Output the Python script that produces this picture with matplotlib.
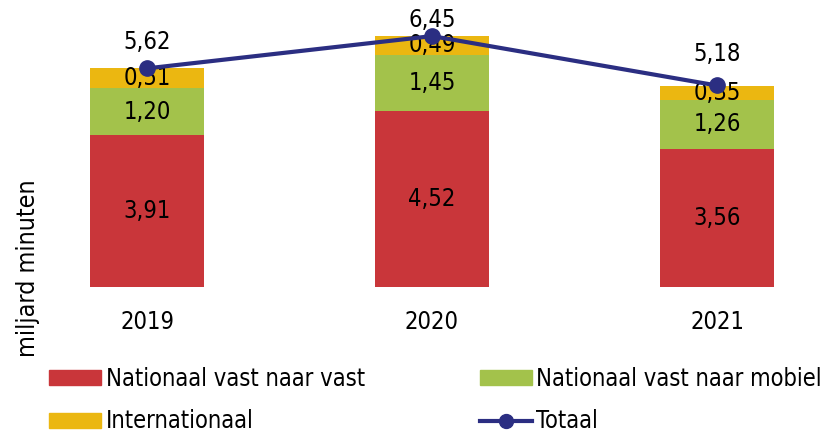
import numpy as np
import matplotlib.pyplot as plt
from matplotlib.patches import Patch
from matplotlib.lines import Line2D

# data
jaren = ['2019', '2020', '2021']
vast_vast = [3.91, 4.52, 3.56]
vast_mobiel = [1.20, 1.45, 1.26]
internationaal = [0.51, 0.49, 0.35]
totaal = [5.62, 6.45, 5.18]

c_rood = '#C9363A'
c_groen = '#A3C24B'
c_geel = '#EBB711'
c_blauw = '#2B2E82'

plt.rcParams['font.family'] = ['DejaVu Sans']
plt.rcParams['font.stretch'] = 'condensed'

W, H = 827, 436
fig = plt.figure(figsize=(W / 100, H / 100), dpi=100)

# axes in pixels: baseline at y=287, bar centres at 147/432/717
left, right, top, bottom = 40, 820, 10, 287
ax = fig.add_axes([left / W, 1 - bottom / H, (right - left) / W, (bottom - top) / H])
px_per_cat = 285
px_per_unit = 38.9
ax.set_xlim((left - 147) / px_per_cat, (right - 147) / px_per_cat)
ax.set_ylim(0, (bottom - top) / px_per_unit)
ax.axis('off')

x = np.arange(len(jaren))
bw = 0.4
b1 = ax.bar(x, vast_vast, bw, color=c_rood)
b2 = ax.bar(x, vast_mobiel, bw, bottom=vast_vast, color=c_groen)
bottom2 = np.array(vast_vast) + np.array(vast_mobiel)
b3 = ax.bar(x, internationaal, bw, bottom=bottom2, color=c_geel)

fs = 17
def fmt(v):
    return f'{v:.2f}'.replace('.', ',')

for bars, vals in [(b1, vast_vast), (b2, vast_mobiel), (b3, internationaal)]:
    for rect, v in zip(bars, vals):
        ax.text(rect.get_x() + rect.get_width() / 2, rect.get_y() + rect.get_height() / 2,
                fmt(v), ha='center', va='center', fontsize=fs, color='black')

ax.plot(x, totaal, color=c_blauw, lw=3, marker='o', ms=11, zorder=5)
# label offsets above the points (points), as in the original
lab_off = [10, 3, 14]
for xi, v, o in zip(x, totaal, lab_off):
    ax.annotate(fmt(v), (xi, v), xytext=(0, o), textcoords='offset points',
                ha='center', va='bottom', fontsize=fs)

for xi, j in zip(x, jaren):
    ax.annotate(j, (xi, 0), xytext=(0, -25), textcoords='offset points',
                ha='center', va='center', fontsize=fs)

fig.text(28 / W, 1 - 268 / H, 'miljard minuten', rotation=90, ha='center', va='center', fontsize=18)

# column-major fill -> order so rows read red/green, yellow/totaal
handles = [Patch(color=c_rood), Patch(color=c_geel), Patch(color=c_groen),
           Line2D([], [], color=c_blauw, lw=3, marker='o', ms=10)]
labels = ['Nationaal vast naar vast', 'Internationaal', 'Nationaal vast naar mobiel', 'Totaal']
leg = fig.legend(handles, labels, loc='center left', bbox_to_anchor=(28 / W, 1 - 400 / H),
                 ncol=2, frameon=False, fontsize=fs, handlelength=2.2, handleheight=0.6,
                 handletextpad=0.2, columnspacing=4.85, labelspacing=0.8)

fig.savefig('out.png', dpi=100)
